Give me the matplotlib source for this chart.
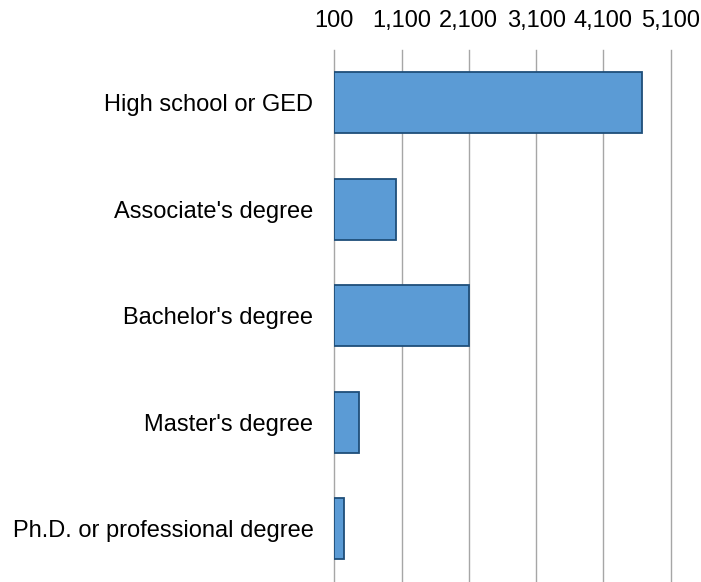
import matplotlib
matplotlib.use("Agg")
import matplotlib.pyplot as plt
from matplotlib.ticker import FuncFormatter

categories = ["High school or GED", "Associate's degree", "Bachelor's degree",
              "Master's degree", "Ph.D. or professional degree"]
values = [4670, 1010, 2105, 460, 245]
axis_min = 100
axis_max = 5100
ticks = [100, 1100, 2100, 3100, 4100, 5100]

plt.rcParams['font.family'] = ['Liberation Sans', 'DejaVu Sans']

fig = plt.figure(figsize=(7.01, 5.82), dpi=100)
ax = fig.add_axes([334.3/701, 0.0, 336.4/701, 532.5/582])

y = list(range(len(categories)))
ax.barh(y, [v - axis_min for v in values], left=axis_min, height=0.575,
        color="#5B9BD5", edgecolor="#1F4E79", linewidth=1.3, zorder=3)

ax.set_xlim(axis_min, axis_max)
ax.set_ylim(len(categories) - 0.5, -0.5)
ax.set_xticks(ticks)
ax.xaxis.set_major_formatter(FuncFormatter(lambda v, p: f"{int(v):,}"))
ax.xaxis.tick_top()
ax.set_yticks(y)
ax.set_yticklabels(categories)
ax.tick_params(axis='x', length=0, pad=16.5, labelsize=17, colors='black')
ax.tick_params(axis='y', length=0, pad=15, labelsize=17, colors='black')
for lbl in ax.get_xticklabels():
    lbl.set_verticalalignment('baseline')
for t in ticks:
    ax.axvline(t, color="#A6A6A6", linewidth=1.0, zorder=0, clip_on=False)
for s in ax.spines.values():
    s.set_visible(False)

fig.savefig("out.png", dpi=100)
